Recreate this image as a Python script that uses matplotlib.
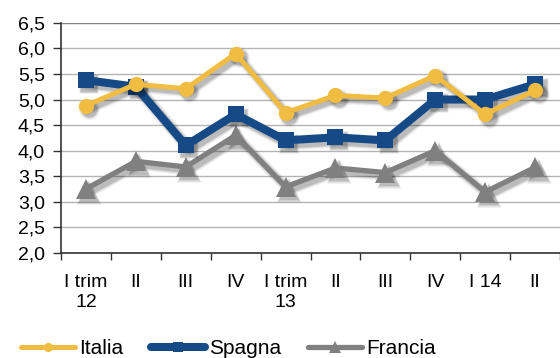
import matplotlib
matplotlib.use("Agg")
import matplotlib.pyplot as plt
import matplotlib.transforms as mtransforms
import numpy as np

plt.rcParams['font.family'] = ['Liberation Sans', 'DejaVu Sans']

quarters = ["I trim\n12", "II", "III", "IV", "I trim\n13", "II", "III", "IV", "I 14", "II"]
italia = [4.88, 5.30, 5.21, 5.90, 4.74, 5.08, 5.03, 5.47, 4.71, 5.18]
spagna = [5.38, 5.25, 4.10, 4.71, 4.20, 4.26, 4.20, 5.00, 5.00, 5.30]
francia = [3.25, 3.79, 3.68, 4.30, 3.29, 3.66, 3.57, 4.00, 3.19, 3.67]
yticks = [2.0, 2.5, 3.0, 3.5, 4.0, 4.5, 5.0, 5.5, 6.0, 6.5]

fig = plt.figure(figsize=(5.6, 3.58), dpi=100)
ax = fig.add_axes([0.109, 0.294, 0.891, 0.642])

x = np.arange(len(quarters))

series = [
    # values, colour, line width, marker, marker size, label, zorder
    (francia, '#808080', 3.8, '^', 14, 'Francia', 3),
    (spagna, '#164A87', 5.8, 's', 11, 'Spagna', 5),
    (italia, '#F0BC42', 3.6, 'o', 11, 'Italia', 7),
]

lines = {}
for vals, col, lw, mk, ms, lab, z in series:
    # soft drop shadow: a few stacked, slightly offset translucent copies
    for grow, alpha in [(4.0, 0.05), (2.6, 0.06), (1.4, 0.08), (0.4, 0.10)]:
        tr = mtransforms.offset_copy(ax.transData, fig=fig, x=3.5, y=-3.5, units='dots')
        ax.plot(x, vals, color='black', alpha=alpha, lw=lw + grow, marker=mk,
                ms=ms + grow, mew=0, transform=tr, zorder=z - 0.5,
                solid_joinstyle='round')
    ln, = ax.plot(x, vals, color=col, lw=lw, marker=mk, ms=ms, mew=0,
                  label=lab, zorder=z, solid_capstyle='round')
    lines[lab] = ln

ax.set_xlim(-0.5, len(quarters) - 0.5)
ax.set_ylim(2.0, 6.5)
ax.set_yticks(yticks)
ax.set_yticklabels([f"{v:.1f}".replace('.', ',') for v in yticks], fontsize=14)
ax.set_xticks(x)
ax.set_xticklabels(quarters, fontsize=14, linespacing=1.3)
ax.set_xticks(np.arange(-0.5, len(quarters), 1), minor=True)
ax.tick_params(axis='x', which='major', length=0, pad=15)
ax.tick_params(axis='x', which='minor', length=5, width=1, color='#333333')
ax.tick_params(axis='y', length=5.5, width=1, color='#333333', pad=6)

ax.yaxis.grid(True, color='#B4B4B4', lw=1)
ax.axhline(6.5, color='#858585', lw=1.6, zorder=1)
ax.set_axisbelow(True)
for s in ['top', 'right']:
    ax.spines[s].set_visible(False)
for s in ['left', 'bottom']:
    ax.spines[s].set_color('#333333')
    ax.spines[s].set_linewidth(1.2)

fig.legend([lines['Italia'], lines['Spagna'], lines['Francia']],
           ['Italia', 'Spagna', 'Francia'],
           loc='lower left', bbox_to_anchor=(0.004, -0.052), ncol=3,
           frameon=False, fontsize=15, handlelength=2.6,
           handletextpad=0.2, columnspacing=1.3, markerscale=0.6)

fig.savefig("out.png", dpi=100)
